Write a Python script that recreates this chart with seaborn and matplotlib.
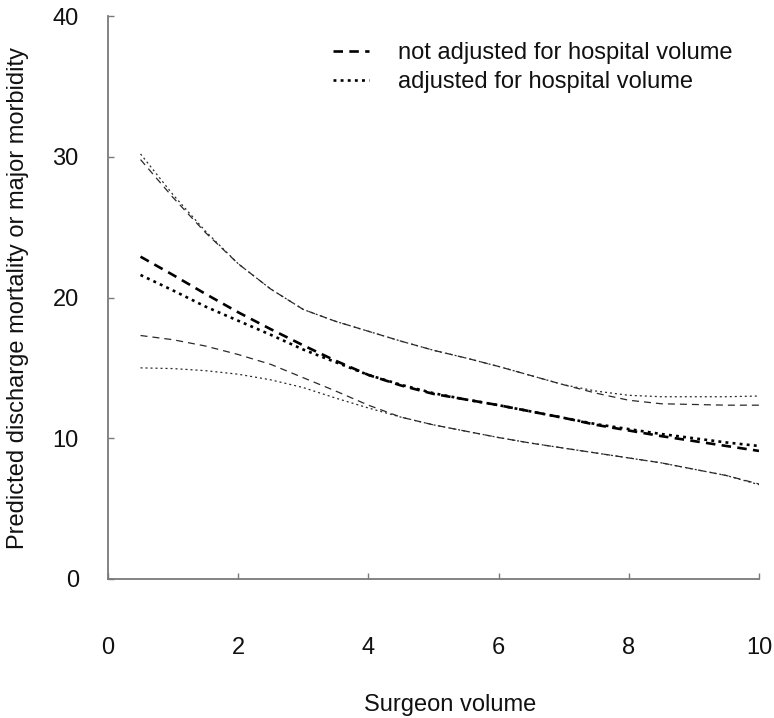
import numpy as np
import pandas as pd
import matplotlib
matplotlib.use("Agg")
import matplotlib.pyplot as plt
import seaborn as sns

# Surgeon volume grid
surgeon_volume = [0.5, 1, 1.5, 2, 2.5, 3, 3.5, 4, 4.5, 5, 5.5, 6, 6.5, 7, 7.5, 8, 8.5, 9, 9.5, 10]

# Model not adjusted for hospital volume: estimate and 95% limits
unadj_est = [22.9, 21.6, 20.25, 18.95, 17.75, 16.6, 15.5, 14.5, 13.75, 13.15,
             12.75, 12.35, 11.9, 11.45, 10.95, 10.55, 10.15, 9.8, 9.45, 9.1]
unadj_upper = [29.8, 27.1, 24.6, 22.4, 20.6, 19.15, 18.3, 17.6, 16.9, 16.25,
               15.7, 15.1, 14.45, 13.8, 13.2, 12.7, 12.45, 12.4, 12.35, 12.35]
unadj_lower = [17.3, 17.0, 16.55, 15.95, 15.25, 14.3, 13.35, 12.35, 11.5, 10.95,
               10.5, 10.05, 9.65, 9.3, 8.95, 8.6, 8.25, 7.8, 7.35, 6.75]

# Model adjusted for hospital volume: estimate and 95% limits
adj_est = [21.6, 20.5, 19.35, 18.35, 17.35, 16.3, 15.4, 14.5, 13.8, 13.2,
           12.75, 12.35, 11.9, 11.45, 11.0, 10.65, 10.3, 10.0, 9.7, 9.45]
adj_upper = [30.2, 27.3, 24.7, 22.4, 20.6, 19.15, 18.3, 17.6, 16.9, 16.25,
             15.7, 15.1, 14.45, 13.8, 13.35, 13.05, 12.95, 12.95, 12.95, 13.0]
adj_lower = [15.0, 14.95, 14.8, 14.55, 14.15, 13.6, 12.85, 12.15, 11.5, 10.95,
             10.5, 10.05, 9.65, 9.3, 8.95, 8.6, 8.25, 7.8, 7.35, 6.7]

labels = ["not adjusted for hospital volume", "adjusted for hospital volume"]
x_ticks = [0, 2, 4, 6, 8, 10]
y_ticks = [0, 10, 20, 30, 40]

sns.set_theme(style="white")
plt.rcParams["font.family"] = ["Liberation Sans", "DejaVu Sans"]

fig = plt.figure(figsize=(7.74, 7.18), dpi=100)
ax = fig.add_axes([0.1395, 0.1936, 0.8411, 0.7841])

FS = 17
dash_main = (3.6, 2.4)
dot_main = (1.1, 1.6)
dash_ci = (5.6, 4.0)
dot_ci = (1.6, 2.4)

series = [
    (unadj_upper, dash_ci, 0.9, "#2a2a2a", None),
    (unadj_lower, dash_ci, 0.9, "#2a2a2a", None),
    (adj_upper, dot_ci, 0.9, "#2a2a2a", None),
    (adj_lower, dot_ci, 0.9, "#2a2a2a", None),
    (unadj_est, dash_main, 1.9, "black", labels[0]),
    (adj_est, dot_main, 1.9, "black", labels[1]),
]

for values, dash, lw, color, lab in series:
    df = pd.DataFrame({"x": surgeon_volume, "y": values})
    sns.lineplot(data=df, x="x", y="y", ax=ax, color=color,
                 linewidth=lw, label=lab, legend=False)
    ax.lines[-1].set_dashes(dash)

ax.set_xlim(0, 10)
ax.set_ylim(0, 40)
ax.set_xticks(x_ticks)
ax.set_yticks(y_ticks)
ax.set_xticklabels([str(t) for t in x_ticks], fontsize=FS, color="#111111")
ax.set_yticklabels([str(t) for t in y_ticks], fontsize=FS, color="#111111")

for side in ["top", "right"]:
    ax.spines[side].set_visible(False)
for side in ["left", "bottom"]:
    ax.spines[side].set_color("#7a7a7a")
    ax.spines[side].set_linewidth(1.3)

ax.tick_params(axis="x", direction="in", length=4.5, width=1.0, color="#7a7a7a", pad=42)
ax.tick_params(axis="y", direction="in", length=4.5, width=1.0, color="#7a7a7a", pad=21)
ax.tick_params(left=True, bottom=True)

ax.set_xlabel("Surgeon volume", fontsize=FS, color="#111111")
ax.xaxis.set_label_coords(0.525, -0.205)
ax.set_ylabel("Predicted discharge mortality or major morbidity", fontsize=FS,
              color="#111111", labelpad=17)

handles = [ax.lines[4], ax.lines[5]]
leg = ax.legend(handles, labels, loc="upper left", bbox_to_anchor=(0.345, 0.953),
                frameon=False, fontsize=FS, handlelength=1.55, handletextpad=1.2,
                labelspacing=0.29, borderpad=0, borderaxespad=0)
for t in leg.get_texts():
    t.set_color("#111111")

fig.savefig("out.png", dpi=100, facecolor="white")
